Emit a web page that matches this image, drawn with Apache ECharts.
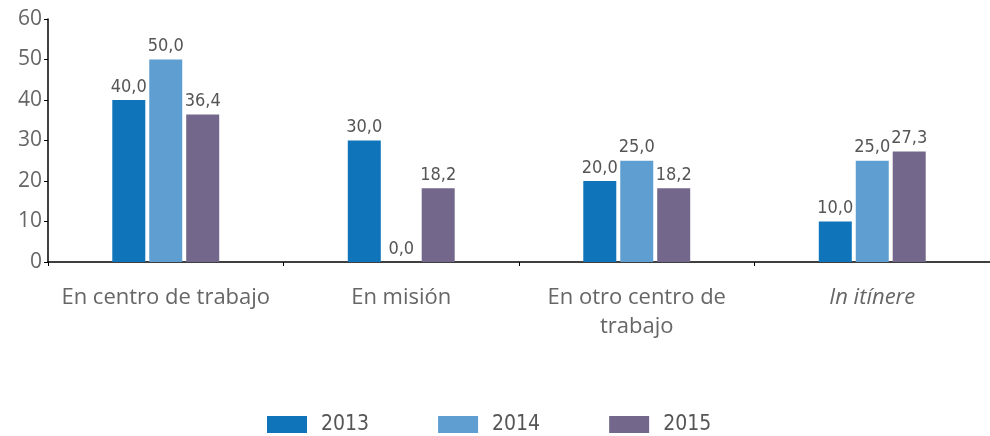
<!DOCTYPE html>
<html>
<head>
<meta charset="utf-8">
<script src="https://cdn.jsdelivr.net/npm/echarts@6/dist/echarts.min.js"></script>
<style>
  html, body { margin: 0; padding: 0; background: #fff; }
  #chart { width: 990px; height: 436px; }
</style>
</head>
<body>
<div id="chart"></div>
<script>
// datos
var categorias = ['En centro de trabajo', 'En misión', 'En otro centro de\ntrabajo', 'In itínere'];
var serie2013 = [40.0, 30.0, 20.0, 10.0];
var serie2014 = [50.0, 0.0, 25.0, 25.0];
var serie2015 = [36.4, 18.2, 18.2, 27.3];
var nombres = ['2013', '2014', '2015'];
var colores = ['#1074bb', '#5f9ed1', '#73688b'];

var chart = echarts.init(document.getElementById('chart'));

var numFont = "'DejaVu Sans Condensed', 'DejaVu Sans', sans-serif";
var txtFont = "'Open Sans', sans-serif";

function serie(nombre, datos, color) {
  return {
    name: nombre,
    type: 'bar',
    data: datos,
    barWidth: 33,
    barGap: '12%',
    itemStyle: { color: color },
    label: {
      show: true,
      position: 'top',
      distance: 4,
      color: '#555',
      fontFamily: numFont,
      fontSize: 18,
      formatter: function (p) { return p.value.toFixed(1).replace('.', ','); }
    }
  };
}

chart.setOption({
  animation: false,
  grid: { left: 48, top: 19, width: 948, height: 243 },
  legend: {
    left: 262,
    top: 409,
    itemWidth: 40,
    itemHeight: 17,
    itemGap: 69,
    icon: 'rect',
    textStyle: { fontFamily: numFont, fontSize: 21, color: '#555', padding: [0, 0, 0, 9] },
    data: nombres
  },
  xAxis: {
    type: 'category',
    data: categorias,
    axisLine: { lineStyle: { color: '#000', width: 1.5 } },
    axisTick: { show: true, length: 4, inside: false, lineStyle: { color: '#000' } },
    axisLabel: {
      margin: 21,
      interval: 0,
      color: '#666',
      fontFamily: txtFont,
      fontSize: 22,
      lineHeight: 29,
      formatter: function (v) {
        return v === 'In itínere' ? '{it|' + v + '}' : v;
      },
      rich: {
        it: { fontStyle: 'italic', color: '#666', fontFamily: txtFont, fontSize: 22 }
      }
    }
  },
  yAxis: {
    type: 'value',
    min: 0,
    max: 60,
    interval: 10,
    splitLine: { show: false },
    axisLine: { show: true, lineStyle: { color: '#000', width: 1.5 } },
    axisTick: { show: true, length: 4, lineStyle: { color: '#000' } },
    axisLabel: { color: '#666', fontFamily: txtFont, fontSize: 21, margin: 6 }
  },
  series: [
    serie(nombres[0], serie2013, colores[0]),
    serie(nombres[1], serie2014, colores[1]),
    serie(nombres[2], serie2015, colores[2])
  ]
});
</script>
</body>
</html>
